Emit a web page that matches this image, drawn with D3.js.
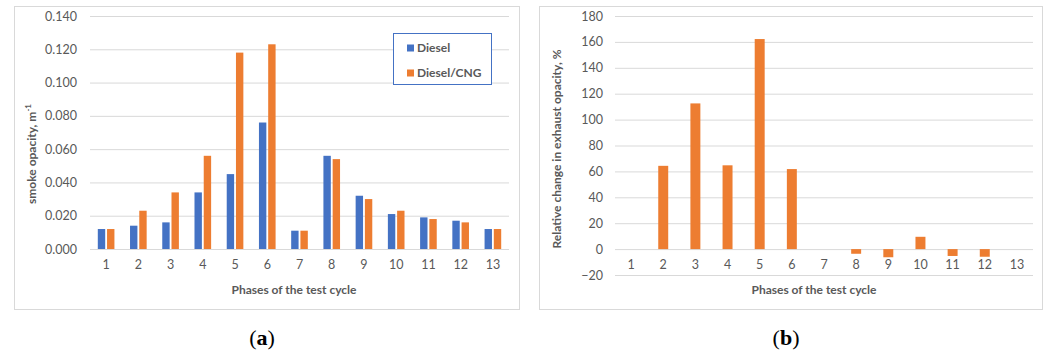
<!DOCTYPE html>
<html>
<head>
<meta charset="utf-8">
<script src="https://cdn.jsdelivr.net/npm/d3@7"></script>
<style>
  html, body { margin: 0; padding: 0; background: #fff; }
  svg { display: block; }
  text { font-family: Lato, "Noto Sans", sans-serif; }
</style>
</head>
<body>
<svg id="chart" width="1046" height="352"></svg>
<script>
// Test cycle phases
const phases = ["1", "2", "3", "4", "5", "6", "7", "8", "9", "10", "11", "12", "13"];

// Smoke opacity, m^-1
const dieselOpacity = [0.012, 0.014, 0.016, 0.034, 0.045, 0.076, 0.011, 0.056, 0.032, 0.021, 0.019, 0.017, 0.012];
const dualFuelOpacity = [0.012, 0.023, 0.034, 0.056, 0.118, 0.123, 0.011, 0.054, 0.030, 0.023, 0.018, 0.016, 0.012];

// Relative change in exhaust opacity, %
const relativeChange = [0, 64.3, 112.5, 64.7, 162.2, 61.8, 0, -3.6, -6.3, 9.5, -5.3, -5.9, 0];

const seriesNames = ["Diesel", "Diesel/CNG"];
const opacityTicks = [0, 0.02, 0.04, 0.06, 0.08, 0.10, 0.12, 0.14];
const changeTicks = [-20, 0, 20, 40, 60, 80, 100, 120, 140, 160, 180];

const colors = { "Diesel": "#4472C4", "Diesel/CNG": "#ED7D31" };
const gridColor = "#D9D9D9";
const textColor = "#595959";

const svg = d3.select("#chart");

// Panel frames
function frame(x0, y0, x1, y1) {
  svg.append("rect")
    .attr("x", x0 + 0.5).attr("y", y0 + 0.5)
    .attr("width", x1 - x0).attr("height", y1 - y0)
    .attr("fill", "#fff").attr("stroke", "#D9D9D9").attr("stroke-width", 1);
}
frame(14, 6, 519, 309);
frame(539, 6, 1042, 309);

// ---------- Panel (a): smoke opacity ----------
{
  const g = svg.append("g");
  const x = d3.scaleBand().domain(phases).range([90, 509]).paddingInner(0).paddingOuter(0);
  const y = d3.scaleLinear().domain([0, 0.14]).range([249, 16]);
  const xs = d3.scaleBand().domain(seriesNames)
    .range([x.bandwidth() * 0.242, x.bandwidth() * 0.758]).paddingInner(0.2);

  // gridlines
  const yAxis = d3.axisLeft(y).tickValues(opacityTicks).tickFormat(d3.format(".3f"))
    .tickSize(-(509 - 90)).tickPadding(13);
  const ya = g.append("g").attr("transform", "translate(90,0)").call(yAxis);
  ya.select(".domain").remove();
  ya.selectAll(".tick line").attr("stroke", gridColor);
  ya.selectAll(".tick text").attr("fill", textColor).style("font-size", "12.5px");

  // bars
  const rows = phases.map((p, i) => ({ phase: p, values: [dieselOpacity[i], dualFuelOpacity[i]] }));
  g.selectAll("g.grp").data(rows).join("g")
    .attr("transform", d => `translate(${x(d.phase)},0)`)
    .selectAll("rect").data(d => d.values.map((v, k) => ({ name: seriesNames[k], v })))
    .join("rect")
    .attr("x", d => xs(d.name)).attr("width", xs.bandwidth())
    .attr("y", d => y(d.v)).attr("height", d => y(0) - y(d.v))
    .attr("fill", d => colors[d.name]);

  // category axis
  const xAxis = d3.axisBottom(x).tickSize(0).tickPadding(11);
  const xa = g.append("g").attr("transform", `translate(0,${y(0)})`).call(xAxis);
  xa.select(".domain").remove();
  xa.selectAll(".tick text").attr("fill", textColor).style("font-size", "12.5px");

  // titles
  g.append("text").attr("x", 294).attr("y", 294).attr("text-anchor", "middle")
    .attr("fill", textColor).style("font-size", "12px").style("font-weight", "bold")
    .text("Phases of the test cycle");
  const yt = g.append("text").attr("transform", "translate(36,154) rotate(-90)")
    .attr("text-anchor", "middle").attr("fill", textColor)
    .style("font-size", "12px").style("font-weight", "bold");
  yt.append("tspan").text("smoke opacity, m");
  yt.append("tspan").attr("dy", -5).style("font-size", "8px").text("-1");

  // legend
  const lg = g.append("g");
  lg.append("rect").attr("x", 393.5).attr("y", 33.5).attr("width", 98).attr("height", 51)
    .attr("fill", "#fff").attr("stroke", "#4472C4").attr("stroke-width", 1);
  seriesNames.forEach((name, k) => {
    const cy = 48 + k * 25;
    lg.append("rect").attr("x", 407).attr("y", cy - 3.5).attr("width", 7).attr("height", 7)
      .attr("fill", colors[name]);
    lg.append("text").attr("x", 417).attr("y", cy).attr("dy", "0.35em")
      .attr("fill", textColor).style("font-size", "12px").style("font-weight", "bold")
      .text(name);
  });
}

// ---------- Panel (b): relative change ----------
{
  const g = svg.append("g");
  const x = d3.scaleBand().domain(phases).range([615, 1033]).paddingInner(0.69).paddingOuter(0.345);
  const y = d3.scaleLinear().domain([-20, 180]).range([275, 16]);

  const yAxis = d3.axisLeft(y).tickValues(changeTicks).tickSize(-(1033 - 615)).tickPadding(12);
  const ya = g.append("g").attr("transform", "translate(615,0)").call(yAxis);
  ya.select(".domain").remove();
  ya.selectAll(".tick line").attr("stroke", gridColor);
  ya.selectAll(".tick text").attr("fill", textColor).style("font-size", "12.5px");

  g.selectAll("rect.bar").data(phases.map((p, i) => ({ phase: p, v: relativeChange[i] })))
    .join("rect").attr("class", "bar")
    .attr("x", d => x(d.phase)).attr("width", x.bandwidth())
    .attr("y", d => y(Math.max(0, d.v)))
    .attr("height", d => Math.abs(y(d.v) - y(0)))
    .attr("fill", colors["Diesel/CNG"]);

  const xAxis = d3.axisBottom(x).tickSize(0).tickPadding(11);
  const xa = g.append("g").attr("transform", `translate(0,${y(0)})`).call(xAxis);
  xa.select(".domain").remove();
  xa.selectAll(".tick text").attr("fill", textColor).style("font-size", "12.5px");

  g.append("text").attr("x", 814).attr("y", 294).attr("text-anchor", "middle")
    .attr("fill", textColor).style("font-size", "12px").style("font-weight", "bold")
    .text("Phases of the test cycle");
  g.append("text").attr("transform", "translate(561,149) rotate(-90)")
    .attr("text-anchor", "middle").attr("fill", textColor)
    .style("font-size", "12px").style("font-weight", "bold")
    .text("Relative change in exhaust opacity, %");
}

// ---------- Captions ----------
[["a", 262], ["b", 786]].forEach(([letter, cx]) => {
  const t = svg.append("text").attr("x", cx).attr("y", 345).attr("text-anchor", "middle")
    .attr("fill", "#000").style("font-family", "'Liberation Serif', 'DejaVu Serif', serif")
    .style("font-size", "22px");
  t.append("tspan").text("(");
  t.append("tspan").style("font-weight", "bold").text(letter);
  t.append("tspan").text(")");
});
</script>
</body>
</html>
